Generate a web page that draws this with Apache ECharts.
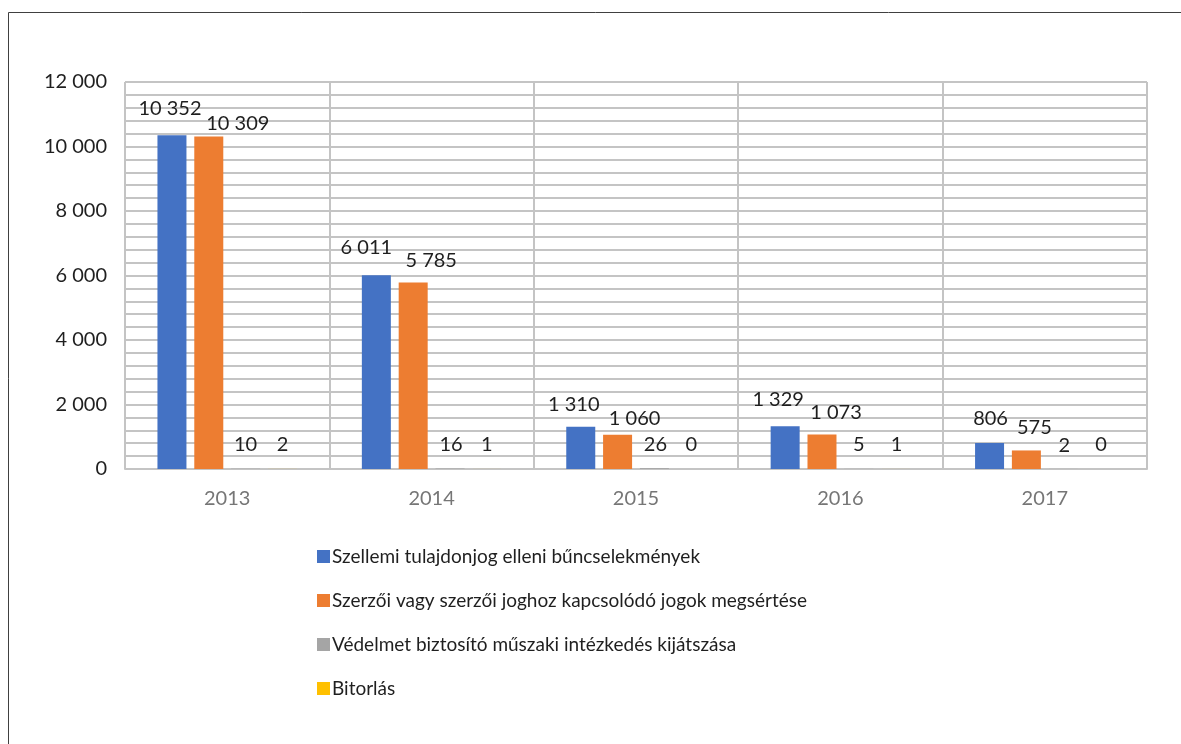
<!DOCTYPE html>
<html>
<head>
<meta charset="utf-8">
<script src="https://cdn.jsdelivr.net/npm/echarts@6/dist/echarts.min.js"></script>
<style>
  html, body { margin: 0; padding: 0; background: #fff; }
  #chart { width: 1181px; height: 744px; }
</style>
</head>
<body>
<div id="chart"></div>
<script>
// years on the x axis
const years = ['2013', '2014', '2015', '2016', '2017'];

// series names (legend)
const seriesNames = [
  'Szellemi tulajdonjog elleni bűncselekmények',
  'Szerzői vagy szerzői joghoz kapcsolódó jogok megsértése',
  'Védelmet biztosító műszaki intézkedés kijátszása',
  'Bitorlás'
];

// values per series
const szellemi = [10352, 6011, 1310, 1329, 806];
const szerzoi = [10309, 5785, 1060, 1073, 575];
const vedelmet = [10, 16, 26, 5, 2];
const bitorlas = [2, 1, 0, 1, 0];

const colors = ['#4472C4', '#ED7D31', '#A5A5A5', '#FFC000'];
const fontFamily = 'Lato, "Open Sans", sans-serif';

// where Excel nudged the data labels, [dx, dy] per series and year
const labelNudge = [
  [[-2, -12], [-10, -13], [-7, -7], [-7, -12], [1, -9]],
  [[29, 2], [18, -7], [17, -1], [14, -7], [8, -8]],
  [[0, -9], [1, -9], [1, -9], [0, -9], [1, -8]],
  [[0, -9], [0, -9], [0, -9], [1, -9], [1, -9]]
];

function fmt(v) {
  return String(v).replace(/\B(?=(\d{3})+(?!\d))/g, ' ');
}

const allValues = [szellemi, szerzoi, vedelmet, bitorlas];

const series = allValues.map((vals, s) => ({
  name: seriesNames[s],
  type: 'bar',
  barWidth: 29,
  barGap: '27%',
  itemStyle: { color: colors[s] },
  label: {
    show: true,
    position: 'top',
    distance: 5,
    fontFamily: fontFamily,
    fontSize: 20,
    color: '#1f1f1f',
    formatter: p => fmt(p.value)
  },
  data: vals.map((v, i) => ({
    value: v,
    label: { offset: labelNudge[s][i] }
  }))
}));

const chart = echarts.init(document.getElementById('chart'));
chart.setOption({
  animation: false,
  color: colors,
  graphic: [{
    type: 'rect',
    shape: { x: 8.5, y: 12.5, width: 1300, height: 900 },
    style: { fill: 'none', stroke: '#404040', lineWidth: 1 },
    silent: true
  }],
  grid: { left: 125, top: 82, right: 34, bottom: 275 },
  legend: {
    orient: 'vertical',
    left: 312,
    top: 542,
    itemWidth: 13,
    itemHeight: 13,
    itemGap: 25,
    icon: 'rect',
    textStyle: { fontFamily: fontFamily, fontSize: 19, color: '#1f1f1f', padding: [0, 0, 0, -3] },
    data: seriesNames
  },
  xAxis: {
    type: 'category',
    data: years,
    axisLine: { show: true, lineStyle: { color: '#c4c4c4', width: 2 } },
    axisTick: { show: false },
    axisLabel: { margin: 20, fontFamily: fontFamily, fontSize: 20, color: '#767676' },
    splitLine: { show: true, interval: 0, lineStyle: { color: '#c4c4c4', width: 2 } }
  },
  yAxis: {
    type: 'value',
    min: 0,
    max: 12000,
    interval: 2000,
    axisLine: { show: false },
    axisTick: { show: false },
    axisLabel: { margin: 18, fontFamily: fontFamily, fontSize: 20, color: '#1f1f1f', formatter: v => fmt(v) },
    splitLine: { show: true, lineStyle: { color: '#c4c4c4', width: 2 } },
    minorTick: { show: false, splitNumber: 5 },
    minorSplitLine: { show: true, lineStyle: { color: '#c4c4c4', width: 2 } }
  },
  series: series
});
</script>
</body>
</html>
